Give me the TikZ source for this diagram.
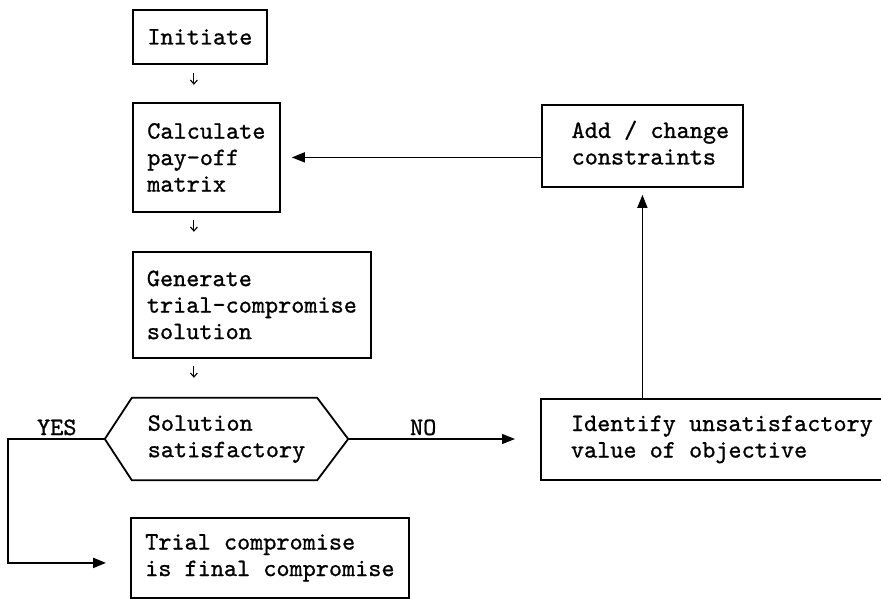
\documentclass[tikz,border=0pt]{standalone}
\usepackage{fontspec}
\newfontfamily\twfont{lmmono10-regular.otf}[FakeBold=0.9]
\usetikzlibrary{arrows.meta,calc}
\begin{document}
\begin{tikzpicture}[x=1pt,y=-1pt,
  txtfont/.style={font=\twfont\fontsize{25}{26.5}\selectfont},
  box/.style={draw, line width=1.8pt, txtfont, align=left, inner sep=0pt, anchor=north west},
  bigarrow/.style={line width=1.3pt, -{Triangle[length=13pt,width=10pt]}},
  tinyarrow/.style={line width=1.1pt, -{Straight Barb[length=4pt,width=7pt]}},
  lbl/.style={txtfont, inner sep=0pt, anchor=base}]
\useasboundingbox (0,0) rectangle (881,598);
% boxes
\node[box, minimum width=134pt, minimum height=54pt] (init) at (132,9) {Initiate};
\node[box, minimum width=147pt, minimum height=109pt] (calc) at (132,102) {Calculate\\pay-off\\matrix};
\node[box, minimum width=238pt, minimum height=106pt] (gen) at (132,251) {Generate\\trial-compromise\\solution};
\node[txtfont, align=left, inner sep=0pt, minimum width=243pt, minimum height=82pt] (sol) at (226.5,439) {Solution\\satisfactory};
\draw[line width=1.8pt, line join=miter] (sol.west) -- ([xshift=27pt]sol.north west) -- ([xshift=-31pt]sol.north east) -- (sol.east) -- ([xshift=-31pt]sol.south east) -- ([xshift=27pt]sol.south west) -- cycle;
\node[box, minimum width=278pt, minimum height=80pt] (trial) at (130,517) {Trial compromise\\is final compromise};
\node[box, minimum width=362pt, minimum height=81pt] (iden) at (540,398) {Identify unsatisfactory\\value of objective};
\node[box, minimum width=201pt, minimum height=82pt] (add) at (541,104) {\begin{tabular}{@{\hspace{16pt}}l@{}}Add / change\\constraints\end{tabular}};
% small arrows
\draw[tinyarrow] ([shift={(-6,8)}]init.south) -- ++(0,12);
\draw[tinyarrow] ([shift={(-12.5,7)}]calc.south) -- ++(0,12);
\draw[tinyarrow] ([shift={(-58,7)}]gen.south) -- ++(0,12);
% connectors
\draw[bigarrow, shorten >=11pt] (calc.east -| add.west) -- (calc.east);
\draw[bigarrow, shorten >=7pt] (iden.north -| add.south) -- (add.south);
\draw[bigarrow, shorten >=25pt] (sol.east) -- (sol.east -| iden.west);
\draw[line width=2.2pt, -{Triangle[length=13pt,width=10pt]}, shorten >=24pt] (sol.west) -- ++(-97,0) coordinate (yescorner) |- ([yshift=-5pt]trial.west);
% labels
\node[lbl] (yes) at ([shift={(-48,-4)}]sol.west) {YES};
\node[lbl] (no) at ([shift={(75,-4)}]sol.east) {NO};
\end{tikzpicture}
\end{document}
